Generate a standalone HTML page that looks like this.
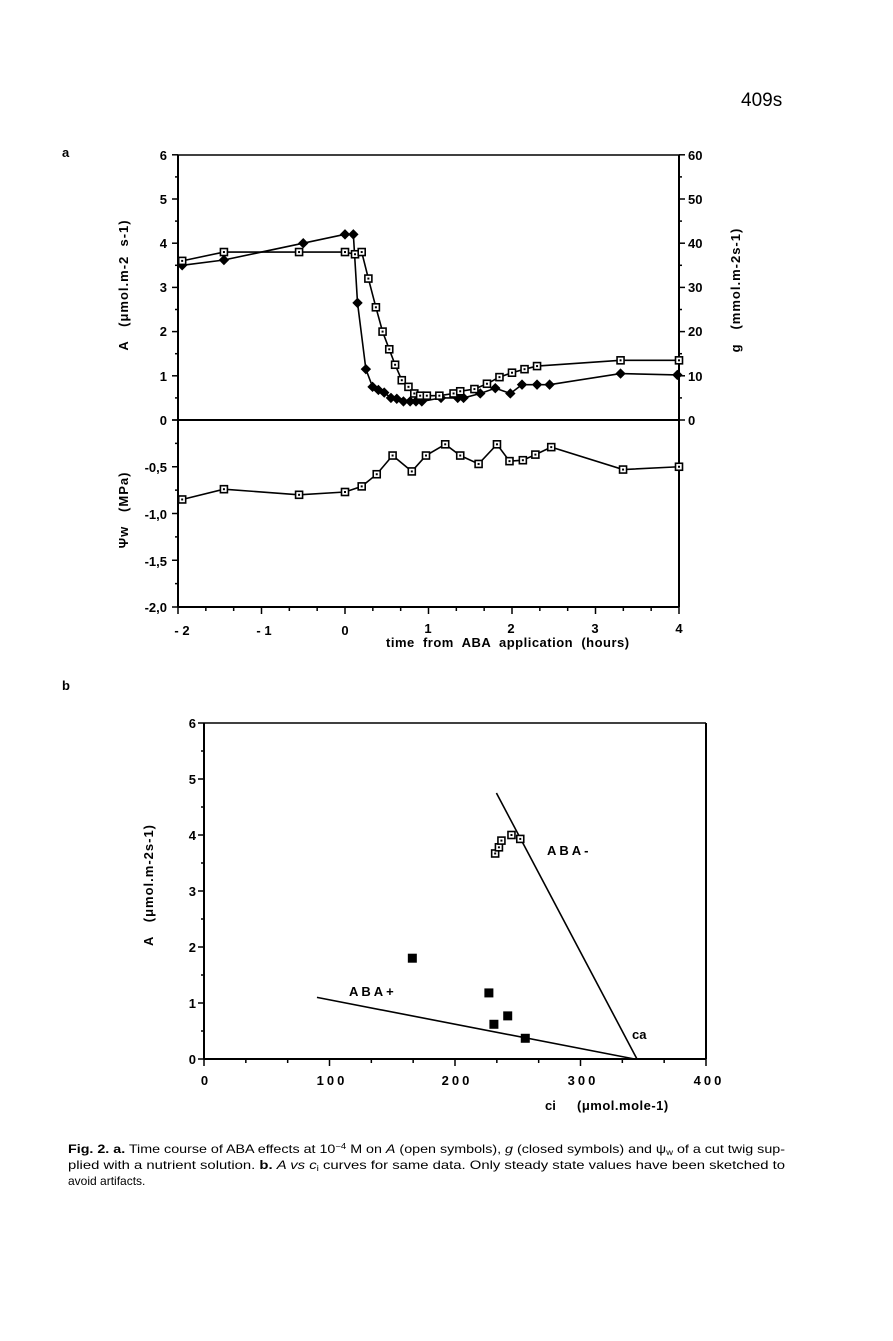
<!DOCTYPE html>
<html><head><meta charset="utf-8"><style>
html,body{margin:0;padding:0;background:#fff;}
svg{display:block;font-family:"Liberation Sans",sans-serif;}
text{white-space:pre;}
.t{font-weight:bold;font-size:13px;fill:#000;}
</style></head><body>
<svg id="s" width="893" height="1341" viewBox="0 0 893 1341" xmlns="http://www.w3.org/2000/svg">
<rect width="893" height="1341" fill="#fff"/>
<text x="741" y="106" font-size="19" fill="#000">409s</text>
<text x="62" y="157" class="t" font-size="12">a</text>
<text x="62" y="690" class="t" font-size="12">b</text>
<g id="g1" stroke="#000" fill="none" stroke-width="2"></g>
<g class="t" text-anchor="end">
<text x="167" y="160">6</text><text x="167" y="204">5</text><text x="167" y="248">4</text>
<text x="167" y="292">3</text><text x="167" y="336">2</text><text x="167" y="381">1</text>
<text x="167" y="425">0</text>
<text x="167" y="472">-0,5</text><text x="167" y="519">-1,0</text><text x="167" y="566">-1,5</text><text x="167" y="612">-2,0</text>
</g>
<g class="t">
<text x="688" y="160">60</text><text x="688" y="204">50</text><text x="688" y="248">40</text>
<text x="688" y="292">30</text><text x="688" y="336">20</text><text x="688" y="381">10</text><text x="688" y="425">0</text>
</g>
<g class="t" text-anchor="middle">
<text x="182" y="635">- 2</text><text x="264" y="635">- 1</text><text x="345" y="635">0</text>
<text x="428" y="633">1</text><text x="511" y="633">2</text><text x="595" y="633">3</text><text x="679" y="633">4</text>
</g>
<text x="386" y="647" class="t" font-size="15" letter-spacing="0.5">time  from  ABA  application  (hours)</text>
<text transform="translate(128,285) rotate(-90)" class="t" text-anchor="middle" font-size="13" letter-spacing="1">A   (μmol.m-2  s-1)</text>
<text transform="translate(128,510) rotate(-90)" class="t" text-anchor="middle" font-size="13" letter-spacing="1">Ψw   (MPa)</text>
<text transform="translate(740,290) rotate(-90)" class="t" text-anchor="middle" font-size="13" letter-spacing="1">g   (mmol.m-2s-1)</text>
<g class="t" text-anchor="end">
<text x="196" y="728">6</text><text x="196" y="784">5</text><text x="196" y="840">4</text>
<text x="196" y="896">3</text><text x="196" y="952">2</text><text x="196" y="1008">1</text><text x="196" y="1064">0</text>
</g>
<g class="t" text-anchor="middle" letter-spacing="3">
<text x="206" y="1085">0</text><text x="332" y="1085">100</text><text x="457" y="1085">200</text>
<text x="583" y="1085">300</text><text x="709" y="1085">400</text>
</g>
<text x="545" y="1110" class="t">ci</text>
<text x="577" y="1110" class="t" font-size="14" letter-spacing="0.5">(μmol.mole-1)</text>
<text transform="translate(153,885) rotate(-90)" class="t" text-anchor="middle" font-size="13" letter-spacing="1">A   (μmol.m-2s-1)</text>
<text x="547" y="855" class="t" letter-spacing="3">ABA-</text>
<text x="349" y="996" class="t" letter-spacing="3">ABA+</text>
<text x="632" y="1039" class="t" font-size="16">ca</text>
<g font-size="12" fill="#000">
<text x="68" y="1153" textLength="717" lengthAdjust="spacingAndGlyphs"><tspan font-weight="bold">Fig. 2. a.</tspan> Time course of ABA effects at 10<tspan dy="-4" font-size="8">−4</tspan><tspan dy="4"> M on </tspan><tspan font-style="italic">A</tspan> (open symbols), <tspan font-style="italic">g</tspan> (closed symbols) and ψ<tspan font-size="8" dy="2">w</tspan><tspan dy="-2"> of a cut twig sup-</tspan></text>
<text x="68" y="1169" textLength="717" lengthAdjust="spacingAndGlyphs">plied with a nutrient solution. <tspan font-weight="bold">b.</tspan> <tspan font-style="italic">A vs c</tspan><tspan font-size="8" dy="2">i</tspan><tspan dy="-2"> curves for same data. Only steady state values have been sketched to</tspan></text>
<text x="68" y="1185">avoid artifacts.</text>
</g>
</svg>
<script>
var NS="http://www.w3.org/2000/svg",g=document.getElementById("g1");
function el(n,a){var e=document.createElementNS(NS,n);for(var k in a)e.setAttribute(k,a[k]);g.appendChild(e);return e;}
function line(x1,y1,x2,y2,w){el("line",{x1:x1,y1:y1,x2:x2,y2:y2,"stroke-width":w||2});}
var L=178,R=679,T=155,Z=420,B=607;
line(L,T,R,T,1.5);line(L,T,L,B,2);line(R,T,R,B,2);line(L,Z,R,Z,2);line(L,B,R,B,2);
for(var v=0;v<=6;v+=0.5){var y=Z-v*44.2;line(L-(v%1?3:6),y,L,y,1.5);line(R,y,R+(v%1?3:6),y,1.5);}
for(var v=0;v<=2;v+=0.25){var y=Z+v*93.5;line(L-((v*2)%1?3:6),y,L,y,1.5);}
for(var i=0;i<=18;i++){var x=L+i*83.5/3;line(x,B,x,B+(i%3?4:7),1.5);}
function hx(h){return L+(h+2)*83.5;}
function ay(a){return Z-a*44.2;}
function py(p){return Z-p*93.5;}
function poly(pts,fx,fy){el("polyline",{points:pts.map(function(p){return fx(p[0])+","+fy(p[1]);}).join(" "),"stroke-width":1.6});}
function sq(x,y,s){el("rect",{x:x-s,y:y-s,width:2*s,height:2*s,fill:"#fff","stroke-width":1.6});el("rect",{x:x-1,y:y-1,width:2,height:2,fill:"#000",stroke:"none"});}
function dia(x,y){el("polygon",{points:(x)+","+(y-4.5)+" "+(x+4.5)+","+y+" "+x+","+(y+4.5)+" "+(x-4.5)+","+y,fill:"#000","stroke-width":1});}
var A=[[-1.95,3.6],[-1.45,3.8],[-0.55,3.8],[0,3.8],[0.12,3.75],[0.2,3.8],[0.28,3.2],[0.37,2.55],[0.45,2.0],[0.53,1.6],[0.6,1.25],[0.68,0.9],[0.76,0.75],[0.83,0.6],[0.9,0.55],[0.98,0.55],[1.13,0.55],[1.3,0.6],[1.38,0.65],[1.55,0.7],[1.7,0.82],[1.85,0.97],[2.0,1.07],[2.15,1.15],[2.3,1.22],[3.3,1.35],[4.0,1.35]];
var G=[[-1.95,3.5],[-1.45,3.62],[-0.5,4.0],[0,4.2],[0.1,4.2],[0.15,2.65],[0.25,1.15],[0.33,0.75],[0.4,0.68],[0.47,0.62],[0.55,0.5],[0.62,0.48],[0.7,0.42],[0.78,0.42],[0.85,0.42],[0.92,0.42],[1.15,0.5],[1.35,0.5],[1.42,0.5],[1.62,0.6],[1.8,0.72],[1.98,0.6],[2.12,0.8],[2.3,0.8],[2.45,0.8],[3.3,1.05],[3.98,1.02]];
var P=[[-1.95,-0.85],[-1.45,-0.74],[-0.55,-0.8],[0,-0.77],[0.2,-0.71],[0.38,-0.58],[0.57,-0.38],[0.8,-0.55],[0.97,-0.38],[1.2,-0.26],[1.38,-0.38],[1.6,-0.47],[1.82,-0.26],[1.97,-0.44],[2.13,-0.43],[2.28,-0.37],[2.47,-0.29],[3.33,-0.53],[4.0,-0.5]];
poly(G,hx,ay);poly(A,hx,ay);poly(P,hx,py);
G.forEach(function(p){dia(hx(p[0]),ay(p[1]));});
A.forEach(function(p){sq(hx(p[0]),ay(p[1]),3.5);});
P.forEach(function(p){sq(hx(p[0]),py(p[1]),3.5);});
var L2=204,R2=706,T2=723,Z2=1059;
function cx(c){return L2+c*1.255;} function cy(a){return Z2-a*56;}
line(L2,T2,R2,T2,1.5);line(L2,T2,L2,Z2,2);line(R2,T2,R2,Z2,2);line(L2,Z2,R2,Z2,2);
for(var v=0;v<=6;v+=0.5){var y=cy(v);line(L2-(v%1?3:6),y,L2,y,1.5);}
for(var i=0;i<=12;i++){var x=L2+i*502/12;line(x,Z2,x,Z2+(i%3?4:7),1.5);}
line(cx(233),cy(4.75),cx(345),cy(0),1.6);
line(cx(90),cy(1.1),cx(343),cy(0),1.6);
[[232,3.67],[235,3.78],[237,3.9],[245,4.0],[252,3.93]].forEach(function(p){sq(cx(p[0]),cy(p[1]),3.5);});
[[166,1.8],[227,1.18],[242,0.77],[231,0.62],[256,0.37]].forEach(function(p){el("rect",{x:cx(p[0])-4.5,y:cy(p[1])-4.5,width:9,height:9,fill:"#000",stroke:"none"});});
</script>
</body></html>
